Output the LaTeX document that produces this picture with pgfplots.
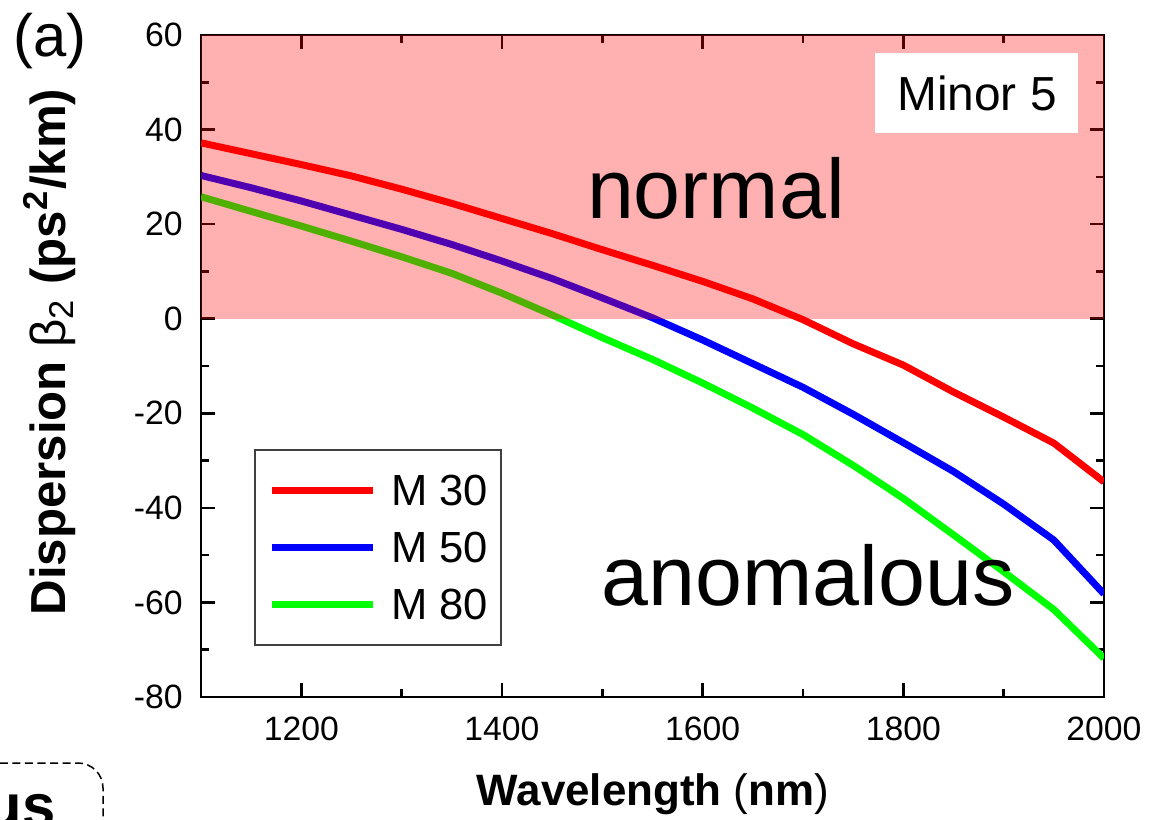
\documentclass[border=0pt]{standalone}
\usepackage{pgfplots}
\pgfplotsset{compat=1.18}
\usepackage{fontspec}
\setmainfont{Liberation Sans}
\begin{document}
\begin{tikzpicture}
\useasboundingbox (0,0) rectangle (115.5mm,81.9mm);
\begin{axis}[
  at={(20.1mm,12.2mm)}, anchor=south west,
  scale only axis, width=90.3mm, height=66.2mm,
  xmin=1100, xmax=2000, ymin=-80, ymax=60,
  xtick={1200,1400,1600,1800,2000},
  ytick={-80,-60,-40,-20,0,20,40,60},
  minor x tick num=1, minor y tick num=1,
  tick align=inside,
  major tick length=1.4mm, minor tick length=0.8mm,
  axis line style={black, line width=0.25mm},
  every tick/.style={black, line width=0.25mm},
  tick label style={font=\fontsize{9.6}{11}\selectfont},
  /pgf/number format/assume math mode=true,
  /pgf/number format/1000 sep={},
  xticklabel style={yshift=-0.8mm},
  yticklabel style={xshift=-0.6mm},
  legend style={at={(rel axis cs:0.0587,0.3746)}, anchor=north west,
    draw=black!75, line width=0.15mm, font=\fontsize{12.4}{14}\selectfont,
    inner xsep=1.3mm, inner ysep=1.2mm, row sep=0pt, column sep=1.5mm,
    nodes={inner sep=0pt, text height=4.4mm, text depth=1.3mm}},
  legend cell align=left,
  legend image code/.code={\draw[#1, line width=0.75mm] (0mm,0mm) -- (10.1mm,0mm);},
]
\addplot[color=red, line width=0.7mm] coordinates {
(1100,37.2) (1150,34.9) (1200,32.6) (1250,30.2) (1300,27.4) (1350,24.4)
(1400,21.2) (1450,18.0) (1500,14.6) (1550,11.3) (1600,7.9) (1650,4.2)
(1700,-0.2) (1750,-5.3) (1800,-9.8) (1850,-15.5) (1900,-20.8) (1950,-26.3) (2000,-34.5)};
\addlegendentry{M 30}
\addplot[color=blue, line width=0.7mm] coordinates {
(1100,30.3) (1150,27.7) (1200,24.9) (1250,21.9) (1300,18.9) (1350,15.7)
(1400,12.2) (1450,8.5) (1500,4.4) (1550,0.2) (1600,-4.5) (1650,-9.5)
(1700,-14.5) (1750,-20.2) (1800,-26.2) (1850,-32.3) (1900,-39.2) (1950,-46.8) (2000,-58.2)};
\addlegendentry{M 50}
\addplot[color=green, line width=0.7mm] coordinates {
(1100,25.8) (1150,22.7) (1200,19.6) (1250,16.4) (1300,13.1) (1350,9.6)
(1400,5.4) (1450,0.8) (1500,-4.0) (1550,-8.6) (1600,-13.6) (1650,-18.9)
(1700,-24.5) (1750,-31.0) (1800,-38.0) (1850,-45.7) (1900,-53.5) (1950,-61.5) (2000,-71.8)};
\addlegendentry{M 80}
\fill[red, opacity=0.31] (axis cs:1100,0) rectangle (axis cs:2000,60);
\end{axis}
\node[anchor=base, inner sep=0pt, font=\fontsize{24}{28}\selectfont] at (71.6mm,60.1mm) {normal};
\node[anchor=base, inner sep=0pt, font=\fontsize{24}{28}\selectfont] at (80.8mm,21.4mm) {anomalous};
\node[fill=white, minimum width=20.3mm, minimum height=8.0mm, inner sep=0pt] at (97.65mm,72.6mm) {};
\node[anchor=base, inner sep=0pt, font=\fontsize{13.6}{15}\selectfont] at (97.7mm,70.83mm) {Minor 5};
\node[anchor=base west, inner sep=0pt, font=\fontsize{17}{20}\selectfont] at (1.3mm,76.2mm) {(a)};
\node[anchor=base, inner sep=0pt, font=\fontsize{12.5}{14}\selectfont] at (65.3mm,1.4mm) {\textbf{Wavelength} (\textbf{nm})};
\node[rotate=90, anchor=base, inner sep=0pt, font=\fontsize{14}{16}\selectfont] at (6.6mm,46.7mm) {\textbf{Dispersion} β\textsubscript{2} \textbf{(ps\textsuperscript{2}/km)}};
\draw[dashed, dash pattern=on 0.8mm off 0.45mm, line width=0.15mm, rounded corners=2.5mm] (-5mm,5.6mm) -- (10.3mm,5.6mm) -- (10.3mm,-5mm);
\node[anchor=base west, inner sep=0pt, font=\bfseries\fontsize{17}{18}\selectfont] at (-1.5mm,-0.7mm) {us};
\end{tikzpicture}
\end{document}
